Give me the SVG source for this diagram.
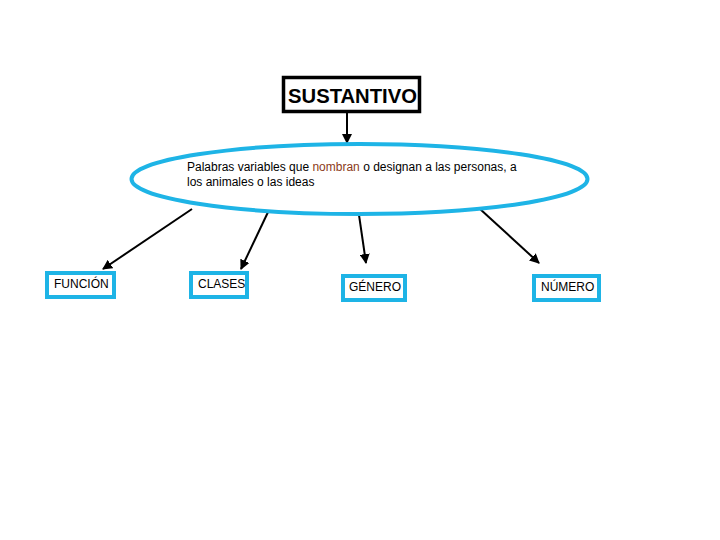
<svg xmlns="http://www.w3.org/2000/svg" width="720" height="540" viewBox="0 0 720 540">
<style>
.t{font-family:"Liberation Sans",Arial,sans-serif;font-size:12px;fill:#000}
.box{fill:#fff;stroke:#1EB4E6;stroke-width:4}
.ln{stroke:#000;stroke-width:2;fill:none;marker-end:url(#ah)}
</style>
<defs>
<marker id="ah" viewBox="0 0 10 10" refX="9" refY="5" markerWidth="5" markerHeight="5" orient="auto" markerUnits="strokeWidth">
<path d="M0,0 L10,5 L0,10 z" fill="#000"/>
</marker>
</defs>
<rect width="720" height="540" fill="#fff"/>
<g id="connectors">
<line class="ln" x1="347" y1="113" x2="347" y2="143"/>
<line class="ln" x1="192" y1="209" x2="103" y2="269"/>
<line class="ln" x1="269" y1="210" x2="241" y2="269"/>
<line class="ln" x1="359" y1="215" x2="366" y2="263"/>
<line class="ln" x1="480" y1="209" x2="539" y2="263"/>
</g>
<g id="sustantivo">
<rect x="283.5" y="77.5" width="136" height="34" fill="#fff" stroke="#000" stroke-width="3.5"/>
<text x="288" y="103" textLength="129" lengthAdjust="spacingAndGlyphs" style="font-family:'Liberation Sans',Arial,sans-serif;font-size:21px;font-weight:bold">SUSTANTIVO</text>
</g>
<g id="definicion">
<ellipse cx="359.5" cy="179" rx="228" ry="35" fill="#fff" stroke="#1EB4E6" stroke-width="4"/>
<text class="t" x="187" y="171">Palabras variables que <tspan fill="#8B3A1A">nombran</tspan> o designan a las personas, a</text>
<text class="t" x="187" y="186">los animales o las ideas</text>
</g>
<g id="funcion">
<rect class="box" x="47" y="273" width="67" height="24"/>
<text class="t" x="54" y="288">FUNCIÓN</text>
</g>
<g id="clases">
<rect class="box" x="191" y="273" width="56" height="24"/>
<text class="t" x="198" y="288">CLASES</text>
</g>
<g id="genero">
<rect class="box" x="343" y="276" width="62" height="24"/>
<text class="t" x="349" y="291">GÉNERO</text>
</g>
<g id="numero">
<rect class="box" x="534" y="276" width="65" height="24"/>
<text class="t" x="541" y="291">NÚMERO</text>
</g>
</svg>
